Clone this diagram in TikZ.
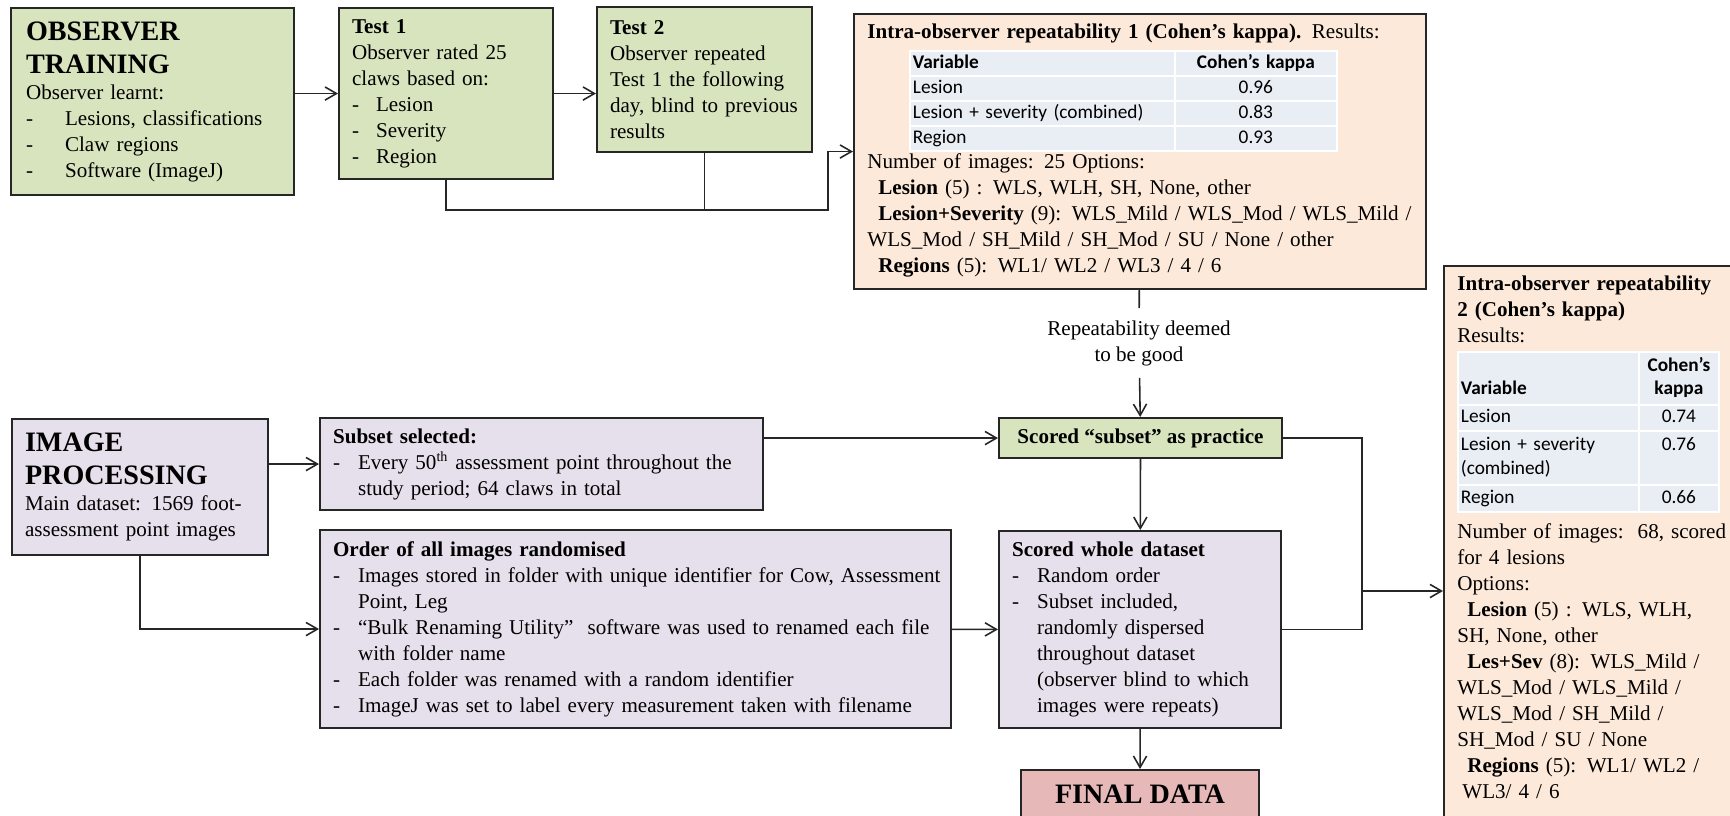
\documentclass[tikz,border=0pt]{standalone}
\usepackage{fontspec}
\setmainfont{Liberation Serif}
\newfontfamily\calibri{Carlito}
\usetikzlibrary{arrows.meta}
\definecolor{Sage}{HTML}{D7E4BD}
\definecolor{Lilac}{HTML}{E5E0EC}
\definecolor{Peach}{HTML}{FDE9D9}
\definecolor{Rose}{HTML}{E6B9B8}
\definecolor{TabBlue}{HTML}{E9EDF4}
\newcommand{\bigbf}{\fontsize{16}{19}\selectfont\bfseries}
\newcommand{\dashitem}[1][0.5cm]{\makebox[#1][l]{-}}

\begin{document}
\begin{tikzpicture}[x=0.02cm,y=-0.02cm,>={Straight Barb[length=6.5pt,width=7.5pt]}]
    \tikzset{
      box/.style={draw=black!85,line width=1.2pt,anchor=north west,
        inner xsep=0.26cm,inner ysep=0.08cm,align=left,
        font=\fontsize{12}{14.8}\selectfont},
      training/.style={box,fill=Sage},
      processing/.style={box,fill=Lilac},
      kappa/.style={box,fill=Peach},
      txt/.style={anchor=base west,inner sep=0pt,align=left,
        font=\fontsize{12}{14.8}\selectfont},
      cell/.style={fill=TabBlue,draw=white,line width=1pt,anchor=north west,
        inner xsep=0.06cm,inner ysep=0pt,
        font=\calibri\fontsize{11}{13.5}\selectfont,
        execute at begin node=\strut,execute at end node=\strut},
      flow/.style={line width=0.9pt,draw=black!85}
    }
    \useasboundingbox (0,0) rectangle (1730,815);
    \clip (0,0) rectangle (1730,815);

    % observer training row
    \node[training,minimum width=5.66cm,minimum height=3.74cm,text width=5.06cm,
      inner xsep=0.3cm] (ot) at (10,7)
      {{\bigbf OBSERVER}\\[4pt]{\bigbf TRAINING}\\Observer learnt:\\
       \dashitem[0.78cm]Lesions, classifications\\
       \dashitem[0.78cm]Claw regions\\
       \dashitem[0.78cm]Software (ImageJ)};
    \node[training,minimum width=4.28cm,minimum height=3.42cm,text width=3.76cm] (test1) at (338,7)
      {\textbf{Test 1}\\Observer rated 25\\claws based on:\\
       \dashitem[0.48cm]Lesion\\\dashitem[0.48cm]Severity\\\dashitem[0.48cm]Region};
    \node[training,minimum width=4.30cm,minimum height=2.90cm,text width=3.78cm] (test2) at (596,6)
      {\textbf{Test 2}\\Observer repeated\\Test 1 the following\\day, blind to previous\\results};

    % repeatability 1
    \node[kappa,minimum width=11.44cm,minimum height=5.5cm] (kap1) at (853,13) {};
    \node[txt,text width=11cm] (kap1head) at (867,38)
      {\textbf{Intra-observer repeatability 1 (Cohen’s kappa).} Results:};
    \foreach \var/\val [count=\r from 0] in {{\textbf{Variable}}/{\textbf{Cohen’s kappa}},
        Lesion/0.96,{Lesion + severity (combined)}/0.83,Region/0.93}{
      \node[cell,minimum width=5.3cm,minimum height=0.5cm,text width=5.18cm,align=left]
        (varA\r) at (909,50+25*\r) {\var};
      \node[cell,minimum width=3.24cm,minimum height=0.5cm,text width=3.12cm,align=center]
        (valA\r) at (1174,50+25*\r) {\val};
    }
    \node[txt,text width=11cm] (kap1body) at (867,168)
      {Number of images: 25 Options:\\
       \hspace*{0.22cm}\textbf{Lesion} (5) : WLS, WLH, SH, None, other\\
       \hspace*{0.22cm}\textbf{Lesion+Severity} (9): WLS\_Mild / WLS\_Mod / WLS\_Mild /\\
       WLS\_Mod / SH\_Mild / SH\_Mod / SU / None / other\\
       \hspace*{0.22cm}\textbf{Regions} (5): WL1/ WL2 / WL3 / 4 / 6};

    \node[align=center,inner sep=0.24cm,font=\fontsize{12}{14.8}\selectfont] (good) at (1139,343)
      {Repeatability deemed\\to be good};

    % image processing rows
    \node[processing,minimum width=5.12cm,minimum height=2.72cm,text width=4.6cm] (ip) at (11,418)
      {{\bigbf IMAGE}\\[4pt]{\bigbf PROCESSING}\\Main dataset: 1569 foot-\\assessment point images};
    \node[processing,minimum width=8.86cm,minimum height=1.84cm,text width=8.34cm] (subset) at (319,417)
      {\textbf{Subset selected:}\\
       \dashitem Every 50\textsuperscript{th} assessment point throughout the\\
       \hspace*{0.5cm}study period; 64 claws in total};
    \node[processing,minimum width=12.62cm,minimum height=3.96cm,text width=12.1cm] (order) at (319,529)
      {\textbf{Order of all images randomised}\\
       \dashitem\mbox{Images stored in folder with unique identifier for Cow, Assessment}\\
       \hspace*{0.5cm}Point, Leg\\
       \dashitem “Bulk Renaming Utility”\ \ software was used to renamed each file\\
       \hspace*{0.5cm}with folder name\\
       \dashitem Each folder was renamed with a random identifier\\
       \dashitem ImageJ was set to label every measurement taken with filename};
    \node[training,align=center,minimum width=5.66cm,minimum height=0.8cm] (ss) at (998,417)
      {\textbf{Scored “subset” as practice}};
    \node[processing,minimum width=5.64cm,minimum height=3.94cm,text width=5.12cm] (swd) at (998,530)
      {\textbf{Scored whole dataset}\\
       \dashitem Random order\\
       \dashitem Subset included,\\
       \hspace*{0.5cm}randomly dispersed\\
       \hspace*{0.5cm}throughout dataset\\
       \hspace*{0.5cm}(observer blind to which\\
       \hspace*{0.5cm}images were repeats)};
    \node[box,fill=Rose,align=center,minimum width=4.76cm,minimum height=0.96cm,
      font=\fontsize{16}{19}\selectfont\bfseries] (final) at (1020,769) {FINAL DATA};

    % repeatability 2
    \node[kappa,minimum width=6cm,minimum height=11.2cm] (kap2) at (1443,265) {};
    \node[txt,text width=5.5cm] (kap2head) at (1457,290)
      {\textbf{Intra-observer repeatability}\\\textbf{2 (Cohen’s kappa)}\\Results:};
    \foreach \y/\h/\var/\val [count=\r from 0] in {351/1.06/{\\\textbf{Variable}}/{\textbf{Cohen’s}\\\textbf{kappa}},
        404/0.52/Lesion/0.74,430/1.08/{Lesion + severity\\(combined)}/{0.76\\},484/0.54/Region/0.66}{
      \node[cell,minimum width=3.62cm,minimum height=\h cm,text width=3.5cm,align=left]
        (varB\r) at (1457,\y) {\var};
      \node[cell,minimum width=1.6cm,minimum height=\h cm,text width=1.48cm,align=center]
        (valB\r) at (1638,\y) {\val};
    }
    \node[txt,text width=5.5cm] (kap2body) at (1457,538)
      {Number of images:\ \ 68, scored\\for 4 lesions\\Options:\\
       \hspace*{0.2cm}\textbf{Lesion} (5) : WLS, WLH,\\SH, None, other\\
       \hspace*{0.2cm}\textbf{Les+Sev} (8): WLS\_Mild /\\WLS\_Mod / WLS\_Mild /\\
       WLS\_Mod / SH\_Mild /\\SH\_Mod / SU / None\\
       \hspace*{0.2cm}\textbf{Regions} (5): WL1/ WL2 /\\\hspace*{0.1cm}WL3/ 4 / 6};

    \coordinate (elbow) at (828,210);
    \coordinate (merge) at (1362,591);

    \draw[flow,->] (ot.east |- test1.west) -- (test1);
    \draw[flow,->] (test1) -- (test1 -| test2.west);
    \draw[flow,->] (test1) |- (elbow) |- (kap1);
    \draw[flow] (test2) -- (test2 |- elbow);
    \draw[flow] (kap1) -- (good);
    \draw[flow,->] (good) -- (ss);
    \draw[flow,->] (ip.east |- subset.west) -- (subset);
    \draw[flow,->] (ip) |- (order);
    \draw[flow,->] (subset.east |- ss.west) -- (ss);
    \draw[flow,->] (order) -- (swd);
    \draw[flow,->] (ss) -- (swd);
    \draw[flow,->] (swd) -- (final);
    \draw[flow] (ss) -| (merge) |- (swd);
    \draw[flow,->] (merge) -- (merge -| kap2.west);
  \end{tikzpicture}
\end{document}
